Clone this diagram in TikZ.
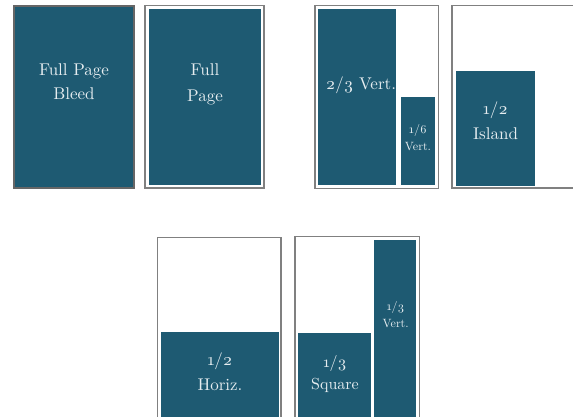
\documentclass[tikz,border=0pt]{standalone}
\usepackage{fontspec}
\setmainfont{lmroman10-regular.otf}
\usepackage{xcolor}
\definecolor{teal1}{HTML}{1E5A72}
\definecolor{txt}{HTML}{E6EDF0}
\definecolor{frm}{HTML}{808080}
\definecolor{frmd}{HTML}{666666}
\tikzset{
  frame/.style={draw=frm, line width=1.4pt},
  ad/.style={fill=teal1},
  big/.style={text=txt, anchor=base, inner sep=0pt, font=\fontsize{17}{20}\selectfont},
  mid/.style={text=txt, anchor=base, inner sep=0pt, font=\fontsize{16}{19}\selectfont},
  sml/.style={text=txt, anchor=base, inner sep=0pt, font=\fontsize{12}{14}\selectfont},
}
\newcommand{\fr}[2]{{\addfontfeatures{Numbers=OldStyle}#1/#2}}
\begin{document}
\begin{tikzpicture}[x=1pt,y=-1pt]
\useasboundingbox (0,0) rectangle (573,417);
\clip (0,0) rectangle (573,417);
% Full Page Bleed
\draw[ad, draw=frmd, line width=1.3pt] (14,6) rectangle (134,188);
\node[big] (fpb1) at (74,75.7) {Full Page};
\node[big] (fpb2) at (74,100) {Bleed};
% Full Page
\draw[frame] (145,5.5) rectangle (264,188);
\fill[ad] (148.7,9) rectangle (261,185);
\node[big] (fp1) at (205,75.7) {Full};
\node[big] (fp2) at (205,101.7) {Page};
% 2/3 + 1/6 Vert
\draw[frame] (315,5.7) rectangle (438.3,188.3);
\fill[ad] (318,9) rectangle (396,184.7);
\fill[ad] (401,97) rectangle (435,184.7);
\node[big] (tv) at (361,90) {\fr{2}{3} Vert.};
\node[sml] (sv1) at (418,133.3) {\fr{1}{6}};
\node[sml] (sv2) at (418,150.7) {Vert.};
% 1/2 Island
\draw[frame] (452,5.7) rectangle (590,188);
\fill[ad] (456,71) rectangle (535,186);
\node[big] (is1) at (495.5,115) {\fr{1}{2}};
\node[big] (is2) at (495.5,140) {Island};
% 1/2 Horiz
\draw[frame] (157.3,237.3) rectangle (281,430);
\fill[ad] (161,331.7) rectangle (279,430);
\node[big] (hz1) at (220,365) {\fr{1}{2}};
\node[big] (hz2) at (220,390.7) {Horiz.};
% 1/3 Square + 1/3 Vert
\draw[frame] (295,236.7) rectangle (419.3,430);
\fill[ad] (298,333) rectangle (371,430);
\fill[ad] (374,240) rectangle (416,430);
\node[mid] (sq1) at (335,367.5) {\fr{1}{3}};
\node[mid] (sq2) at (335,389.3) {Square};
\node[sml] (tv1) at (395.7,310) {\fr{1}{3}};
\node[sml] (tv2) at (395.7,327.7) {Vert.};
\end{tikzpicture}
\end{document}
